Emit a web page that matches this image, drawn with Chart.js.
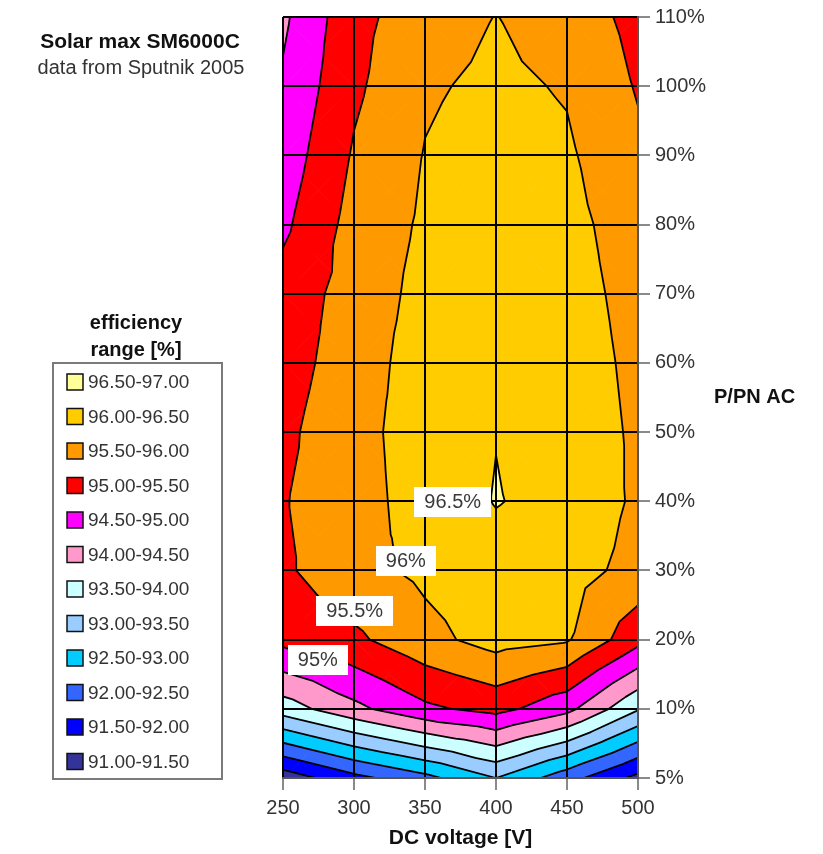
<!DOCTYPE html>
<html>
<head>
<meta charset="utf-8">
<title>Solar max SM6000C efficiency map</title>
<script src="https://cdn.jsdelivr.net/npm/chart.js@4.4.1/dist/chart.umd.min.js"></script>
<style>
  html, body { margin: 0; padding: 0; background: #ffffff; }
  #wrap { width: 823px; height: 854px; position: relative; }
</style>
</head>
<body>
<div id="wrap"><canvas id="chart" width="823" height="854"></canvas></div>
<script>
// ---- data -------------------------------------------------------------
// DC input voltage columns [V]
const voltages = [250, 300, 350, 400, 450, 500];
// AC output power rows, as % of nominal power
const powerLevels = [5, 10, 20, 30, 40, 50, 60, 70, 80, 90, 100, 110];

// measured efficiency [%] for each power row, one value per voltage column
const effAt5   = [91.20, 91.85, 92.35, 93.00, 92.20, 91.35];
const effAt10  = [93.75, 94.37, 94.90, 95.17, 94.65, 93.55];
const effAt20  = [95.15, 95.40, 95.85, 96.19, 96.05, 95.16];
const effAt30  = [95.42, 95.85, 96.10, 96.32, 96.20, 95.84];
const effAt40  = [95.47, 95.80, 96.22, 96.52, 96.36, 95.92];
const effAt50  = [95.40, 95.82, 96.26, 96.49, 96.30, 95.92];
const effAt60  = [95.30, 95.74, 96.25, 96.45, 96.26, 95.88];
const effAt70  = [95.20, 95.71, 96.15, 96.40, 96.20, 95.83];
const effAt80  = [94.90, 95.68, 96.07, 96.30, 96.15, 95.75];
const effAt90  = [94.72, 95.55, 96.02, 96.20, 96.07, 95.60];
const effAt100 = [94.57, 95.41, 95.94, 96.10, 95.96, 95.46];
const effAt110 = [94.41, 95.35, 95.78, 96.01, 95.78, 95.35];

const efficiencyRows = [effAt5, effAt10, effAt20, effAt30, effAt40, effAt50,
                        effAt60, effAt70, effAt80, effAt90, effAt100, effAt110];

// contour band edges [%] and the fill of each band (lowest band first)
const bandEdges = [91.0, 91.5, 92.0, 92.5, 93.0, 93.5, 94.0, 94.5, 95.0, 95.5, 96.0, 96.5, 97.0];
const bandColors = ['#333399', '#0000ff', '#3366ff', '#00ccff', '#99ccff', '#ccffff',
                    '#ff99cc', '#ff00ff', '#ff0000', '#ff9900', '#ffcc00', '#ffff99'];

// contour levels that carry an inline value label
const labelledLevels = [96.5, 96, 95.5, 95];

// ---- presentation -------------------------------------------------------
const FONT = "'Liberation Sans', Arial, Helvetica, sans-serif";
// label anchors in axis units: voltage and power-row position
const labelAnchors = [
  { v: 369.5, row: 3.99 },
  { v: 336.5, row: 3.14 },
  { v: 300.5, row: 2.42 },
  { v: 274.5, row: 1.71 }
];

function clipPoly(poly, level, keepAbove) {
  const out = [];
  for (let i = 0; i < poly.length; i++) {
    const a = poly[i], b = poly[(i + 1) % poly.length];
    const ina = keepAbove ? a.v >= level : a.v <= level;
    const inb = keepAbove ? b.v >= level : b.v <= level;
    if (ina) out.push(a);
    if (ina !== inb) {
      const t = (level - a.v) / (b.v - a.v);
      out.push({ x: a.x + t * (b.x - a.x), y: a.y + t * (b.y - a.y), v: level });
    }
  }
  return out;
}

// split every grid cell into four triangles around its centre
function buildTriangles(xs, ys) {
  const tris = [];
  for (let r = 0; r < powerLevels.length - 1; r++) {
    for (let c = 0; c < voltages.length - 1; c++) {
      const node = (cc, rr) => ({
        x: xs.getPixelForValue(voltages[cc]),
        y: ys.getPixelForValue(rr),
        v: efficiencyRows[rr][cc]
      });
      const p00 = node(c, r), p10 = node(c + 1, r), p11 = node(c + 1, r + 1), p01 = node(c, r + 1);
      const pc = {
        x: (p00.x + p10.x + p11.x + p01.x) / 4,
        y: (p00.y + p10.y + p11.y + p01.y) / 4,
        v: (p00.v + p10.v + p11.v + p01.v) / 4
      };
      tris.push([p00, p10, pc], [p10, p11, pc], [p11, p01, pc], [p01, p00, pc]);
    }
  }
  return tris;
}

const contourPlugin = {
  id: 'contourBands',
  beforeDraw(chart) {
    const { ctx, chartArea: a, scales: { x, y } } = chart;
    const tris = buildTriangles(x, y);
    ctx.save();
    ctx.beginPath();
    ctx.rect(a.left, a.top, a.right - a.left, a.bottom - a.top);
    ctx.clip();
    const last = bandColors.length - 1;
    for (let b = 0; b <= last; b++) {
      const lo = b === 0 ? -Infinity : bandEdges[b];
      const hi = b === last ? Infinity : bandEdges[b + 1];
      ctx.fillStyle = bandColors[b];
      ctx.strokeStyle = bandColors[b];
      ctx.lineWidth = 1;
      for (const t of tris) {
        let p = clipPoly(t, lo, true);
        if (p.length < 3) continue;
        p = clipPoly(p, hi, false);
        if (p.length < 3) continue;
        ctx.beginPath();
        ctx.moveTo(p[0].x, p[0].y);
        for (let i = 1; i < p.length; i++) ctx.lineTo(p[i].x, p[i].y);
        ctx.closePath();
        ctx.fill();
        ctx.stroke();
      }
    }
    // contour lines
    ctx.strokeStyle = '#000';
    ctx.lineWidth = 1.8;
    ctx.lineJoin = 'round';
    ctx.lineCap = 'round';
    ctx.beginPath();
    for (let k = 1; k < bandEdges.length - 1; k++) {
      const L = bandEdges[k];
      for (const t of tris) {
        const pts = [];
        for (let i = 0; i < 3; i++) {
          const p = t[i], q = t[(i + 1) % 3];
          if ((p.v >= L) !== (q.v >= L)) {
            const f = (L - p.v) / (q.v - p.v);
            pts.push([p.x + f * (q.x - p.x), p.y + f * (q.y - p.y)]);
          }
        }
        if (pts.length === 2) {
          ctx.moveTo(pts[0][0], pts[0][1]);
          ctx.lineTo(pts[1][0], pts[1][1]);
        }
      }
    }
    ctx.stroke();
    ctx.restore();
  },
  afterDraw(chart) {
    const { ctx, chartArea: a, scales: { x, y } } = chart;
    ctx.save();
    ctx.textBaseline = 'middle';

    // inline contour labels
    ctx.font = `20px ${FONT}`;
    labelledLevels.forEach((lvl, i) => {
      const px = x.getPixelForValue(labelAnchors[i].v);
      const py = y.getPixelForValue(labelAnchors[i].row);
      const txt = `${lvl}%`;
      const w = ctx.measureText(txt).width + 20;
      const h = 30;
      ctx.fillStyle = '#ffffff';
      ctx.fillRect(Math.round(px - w / 2), Math.round(py - h / 2), Math.round(w), h);
      ctx.fillStyle = '#3a3a3a';
      ctx.textAlign = 'center';
      ctx.fillText(txt, px, py + 1);
    });

    // titles
    ctx.fillStyle = '#111';
    ctx.textAlign = 'center';
    ctx.font = `bold 21px ${FONT}`;
    ctx.fillText('Solar max SM6000C', 140, 42);
    ctx.font = `20px ${FONT}`;
    ctx.fillStyle = '#333';
    ctx.fillText('data from Sputnik 2005', 141, 68);

    // axis titles
    ctx.fillStyle = '#111';
    ctx.font = `bold 21px ${FONT}`;
    ctx.fillText('DC voltage [V]', (a.left + a.right) / 2, 838);
    ctx.textAlign = 'left';
    ctx.font = `bold 20px ${FONT}`;
    ctx.fillText('P/PN AC', y.left + 76, (a.top + a.bottom) / 2);

    // legend
    ctx.textAlign = 'center';
    ctx.font = `bold 20px ${FONT}`;
    ctx.fillText('efficiency', 136, 323);
    ctx.fillText('range [%]', 136, 350);
    ctx.strokeStyle = '#7a7a7a';
    ctx.lineWidth = 2;
    ctx.strokeRect(53, 363, 169, 416);
    ctx.textAlign = 'left';
    ctx.font = `19px ${FONT}`;
    for (let i = 0; i < bandColors.length; i++) {
      const b = bandColors.length - 1 - i;
      const yy = 382 + i * 34.5;
      ctx.fillStyle = bandColors[b];
      ctx.fillRect(67, yy - 8, 16, 16);
      ctx.strokeStyle = '#111';
      ctx.lineWidth = 1.5;
      ctx.strokeRect(67, yy - 8, 16, 16);
      ctx.fillStyle = '#333';
      ctx.fillText(`${bandEdges[b].toFixed(2)}-${bandEdges[b + 1].toFixed(2)}`, 88, yy + 1);
    }
    ctx.restore();
  }
};

// grid nodes as an (invisible) dataset so the scales own the data
const nodePoints = [];
efficiencyRows.forEach((row, r) => row.forEach((val, c) => nodePoints.push({ x: voltages[c], y: r, eff: val })));

Chart.defaults.font.family = FONT;

new Chart(document.getElementById('chart'), {
  type: 'scatter',
  data: {
    datasets: [{ label: 'efficiency', data: nodePoints, pointRadius: 0, pointHoverRadius: 0 }]
  },
  options: {
    responsive: false,
    animation: false,
    events: [],
    layout: { padding: { left: 283, top: 17, right: 0, bottom: 0 } },
    plugins: { legend: { display: false }, tooltip: { enabled: false } },
    scales: {
      x: {
        type: 'linear',
        min: 250,
        max: 500,
        afterFit: (s) => { s.height = 76; },
        ticks: { stepSize: 50, font: { size: 20 }, color: '#333', padding: 6, maxRotation: 0 },
        grid: { color: '#000', lineWidth: 2, tickColor: '#8a8a8a', tickLength: 12, tickWidth: 2 },
        border: { color: '#555', width: 2 }
      },
      y: {
        type: 'linear',
        position: 'right',
        min: 0,
        max: powerLevels.length - 1,
        afterFit: (s) => { s.width = 185; },
        ticks: {
          stepSize: 1,
          font: { size: 20 },
          color: '#333',
          padding: 5,
          callback: (v) => (Number.isInteger(v) ? `${powerLevels[v]}%` : '')
        },
        grid: { color: '#000', lineWidth: 2, tickColor: '#8a8a8a', tickLength: 12, tickWidth: 2 },
        border: { color: '#555', width: 2 }
      }
    }
  },
  plugins: [contourPlugin]
});
</script>
</body>
</html>
